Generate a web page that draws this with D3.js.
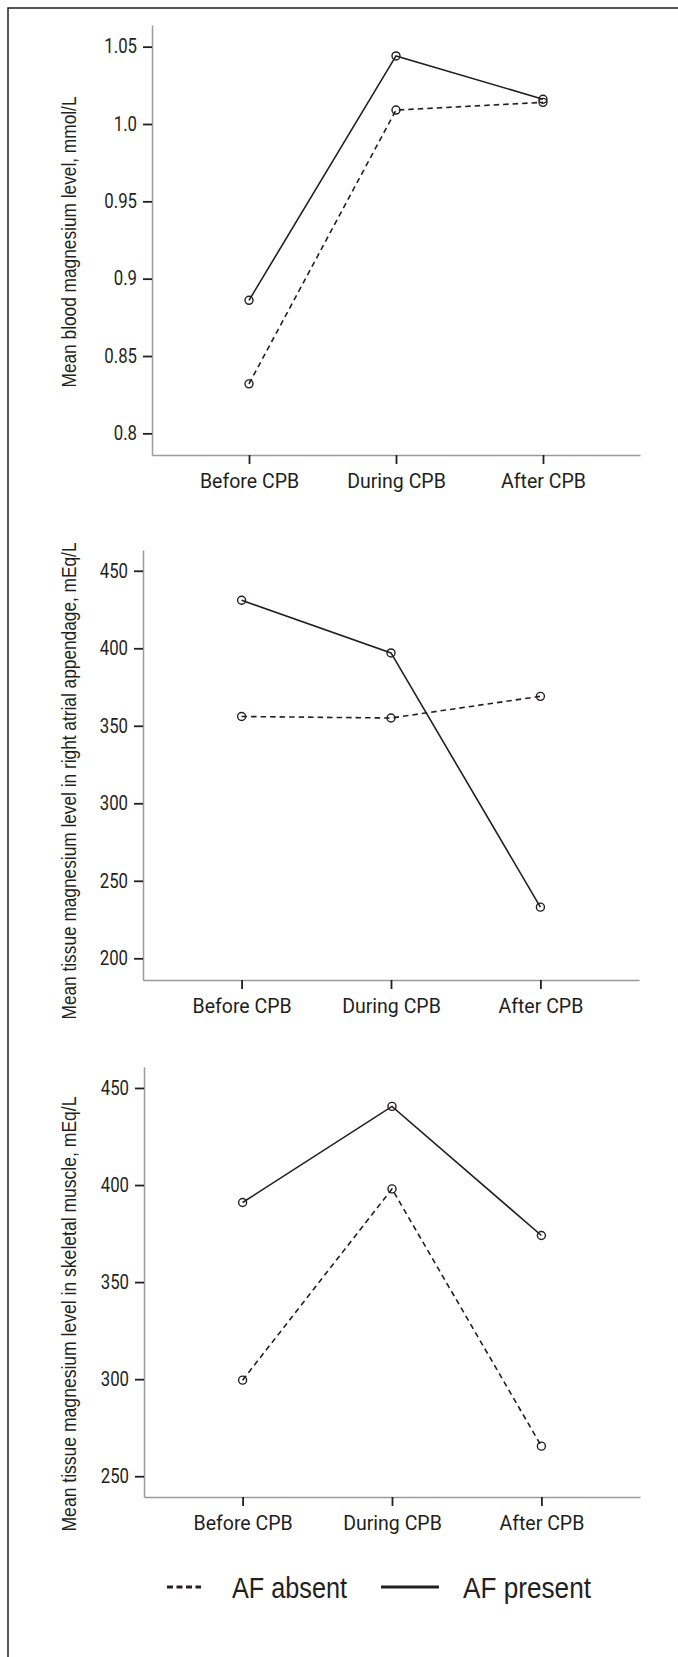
<!DOCTYPE html>
<html>
<head>
<meta charset="utf-8">
<script src="https://cdn.jsdelivr.net/npm/d3@7"></script>
<style>
  html, body { margin: 0; padding: 0; background: #fff; }
  svg { display: block; }
  .tick text { font-family: Roboto, "Liberation Sans", sans-serif; font-size: 19.5px; fill: #231f20; }
  .title { font-family: "Liberation Sans", Arial, sans-serif; font-size: 21px; fill: #231f20; }
  .legend text { font-family: "Liberation Sans", Arial, sans-serif; font-size: 29px; fill: #231f20; }
</style>
</head>
<body>
<div id="chart"></div>
<script>
// time points on the x axis
const categories = ['Before CPB', 'During CPB', 'After CPB'];

// blood magnesium, mmol/L
const bloodAbsent = [0.832, 1.009, 1.014];
const bloodPresent = [0.886, 1.044, 1.016];
const bloodTicks = [0.8, 0.85, 0.9, 0.95, 1.0, 1.05];
const bloodTickLabels = ['0.8', '0.85', '0.9', '0.95', '1.0', '1.05'];

// tissue magnesium in right atrial appendage, mEq/L
const atrialAbsent = [356, 355, 369];
const atrialPresent = [431, 397, 233];
const atrialTicks = [200, 250, 300, 350, 400, 450];

// tissue magnesium in skeletal muscle, mEq/L
const muscleAbsent = [299.5, 398, 265.5];
const musclePresent = [391, 440.5, 374];
const muscleTicks = [250, 300, 350, 400, 450];

const legendLabels = ['AF absent', 'AF present'];

const width = 678;
const height = 1657;
const ink = '#231f20';
const dash = '5.5,4';

const svg = d3.select('#chart')
  .append('svg')
  .attr('width', width)
  .attr('height', height);

// frame: only the top and left edges are drawn
svg.append('path')
  .attr('d', `M8,${height} V8 H${width}`)
  .attr('fill', 'none')
  .attr('stroke', ink)
  .attr('stroke-width', 1.5);

// squeeze a text element to a fraction of its natural width
function squeeze(sel, factor) {
  sel.each(function () {
    const w = this.getComputedTextLength();
    d3.select(this).attr('textLength', w * factor).attr('lengthAdjust', 'spacingAndGlyphs');
  });
}

// one panel = one y axis, shared x categories, two series
function drawPanel(p) {
  const y = d3.scaleLinear().domain(p.yDomain).range([p.bottom, p.top]);
  const x = d3.scalePoint().domain(categories).range([p.left, p.right]).padding(0.66);

  const g = svg.append('g');

  // y axis
  const yAxis = g.append('g')
    .attr('transform', `translate(${p.left},0)`)
    .call(d3.axisLeft(y)
      .tickValues(p.ticks)
      .tickFormat((d, i) => p.tickLabels ? p.tickLabels[i] : d)
      .tickSize(9)
      .tickSizeOuter(0)
      .tickPadding(6));

  // x axis
  const xAxis = g.append('g')
    .attr('transform', `translate(0,${p.bottom})`)
    .call(d3.axisBottom(x)
      .tickSize(9)
      .tickSizeOuter(0)
      .tickPadding(10));

  [yAxis, xAxis].forEach(a => {
    a.select('.domain').attr('stroke', '#9a9a9a').attr('stroke-width', 1.5);
    a.selectAll('.tick line').attr('stroke', ink).attr('stroke-width', 1.8);
    a.attr('font-family', null).attr('font-size', null);
  });
  squeeze(yAxis.selectAll('.tick text'), 0.86);

  // axis title
  g.append('text')
    .attr('class', 'title')
    .attr('transform', `translate(76,${p.titleY}) rotate(-90)`)
    .attr('text-anchor', 'middle')
    .attr('textLength', p.titleLength)
    .attr('lengthAdjust', 'spacingAndGlyphs')
    .text(p.title);

  const line = d3.line()
    .x((d, i) => x(categories[i]))
    .y(d => y(d));

  const series = [
    { values: p.absent, dashed: true },
    { values: p.present, dashed: false }
  ];

  series.forEach(s => {
    g.append('path')
      .datum(s.values)
      .attr('d', line)
      .attr('fill', 'none')
      .attr('stroke', ink)
      .attr('stroke-width', 1.6)
      .attr('stroke-dasharray', s.dashed ? dash : null);

    g.selectAll(null)
      .data(s.values)
      .enter()
      .append('circle')
      .attr('cx', (d, i) => x(categories[i]))
      .attr('cy', d => y(d))
      .attr('r', 4)
      .attr('fill', 'none')
      .attr('stroke', ink)
      .attr('stroke-width', 1.4);
  });
}

drawPanel({
  title: 'Mean blood magnesium level, mmol/L',
  absent: bloodAbsent, present: bloodPresent,
  ticks: bloodTicks, tickLabels: bloodTickLabels,
  yDomain: [0.786, 1.064],
  left: 152, right: 640, top: 25, bottom: 455, titleY: 242, titleLength: 291
});

drawPanel({
  title: 'Mean tissue magnesium level in right atrial appendage, mEq/L',
  absent: atrialAbsent, present: atrialPresent,
  ticks: atrialTicks,
  yDomain: [186, 463.4],
  left: 143, right: 639, top: 550, bottom: 980, titleY: 781, titleLength: 477
});

drawPanel({
  title: 'Mean tissue magnesium level in skeletal muscle, mEq/L',
  absent: muscleAbsent, present: musclePresent,
  ticks: muscleTicks,
  yDomain: [239.3, 460.8],
  left: 144, right: 640, top: 1067, bottom: 1497, titleY: 1314, titleLength: 435
});

// legend
const legend = svg.append('g').attr('class', 'legend');
const legendItems = [
  { label: legendLabels[0], x1: 167, x2: 201, tx: 232, len: 115, dashed: true },
  { label: legendLabels[1], x1: 381, x2: 439, tx: 463, len: 128, dashed: false }
];
legendItems.forEach(d => {
  legend.append('line')
    .attr('x1', d.x1).attr('x2', d.x2)
    .attr('y1', 1587).attr('y2', 1587)
    .attr('stroke', ink)
    .attr('stroke-width', 3.2)
    .attr('stroke-dasharray', d.dashed ? '6,3.5' : null);
  legend.append('text')
    .attr('x', d.tx)
    .attr('y', 1598)
    .attr('textLength', d.len)
    .attr('lengthAdjust', 'spacingAndGlyphs')
    .text(d.label);
});
</script>
</body>
</html>
